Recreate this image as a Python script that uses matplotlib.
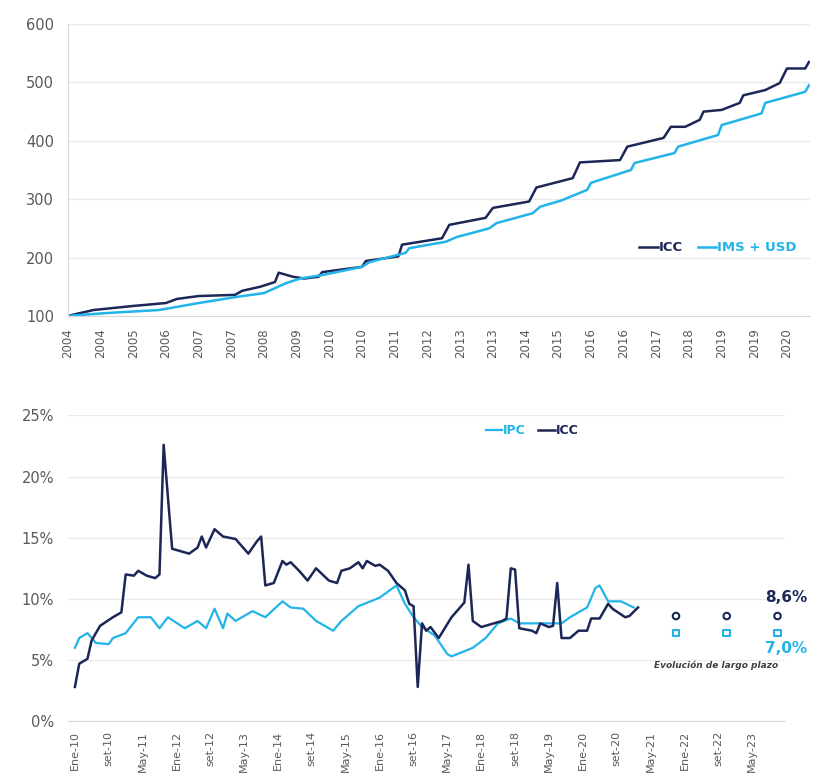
import pandas as pd
import matplotlib
matplotlib.use("Agg")
import matplotlib.pyplot as plt

# ---- top chart: index (2004 = 100) ----
icc_idx_dates = ['2004-01', '2004-08', '2005-07', '2006-04', '2006-07', '2007-01', '2007-11',
                 '2008-01', '2008-06', '2008-10', '2008-11', '2009-03', '2009-06', '2009-10',
                 '2009-11', '2010-10', '2010-11', '2011-08', '2011-09', '2012-08', '2012-10',
                 '2013-08', '2013-10', '2014-08', '2014-10', '2015-08', '2015-10', '2016-09',
                 '2016-11', '2017-09', '2017-11', '2018-03', '2018-07', '2018-08', '2019-01',
                 '2019-06', '2019-07', '2020-01', '2020-05', '2020-07', '2020-12', '2021-01']
icc_idx = [100, 110, 117, 122, 129, 134, 136,
           143, 150, 158, 174, 167, 164, 167,
           175, 184, 194, 202, 222, 233, 256,
           268, 285, 296, 320, 336, 363, 367,
           390, 405, 424, 424, 436, 450, 453,
           465, 478, 487, 499, 524, 524, 535]

ims_dates = ['2004-01', '2004-12', '2006-02', '2007-01', '2007-06', '2007-12', '2008-07',
             '2009-01', '2009-05', '2009-11', '2010-10', '2010-12', '2011-10', '2011-11',
             '2012-09', '2012-12', '2013-09', '2013-11', '2014-09', '2014-11', '2015-05',
             '2015-12', '2016-01', '2016-12', '2017-01', '2017-12', '2018-01', '2018-12',
             '2019-01', '2019-12', '2020-01', '2020-12', '2021-01']
ims_usd = [100, 105, 110, 122, 127, 133, 139,
           156, 164, 170, 184, 192, 208, 216,
           227, 235, 250, 259, 276, 287, 298,
           316, 328, 350, 362, 379, 390, 410,
           427, 447, 465, 484, 495]

top_tick_labels = ['2004', '2004', '2005', '2006', '2007', '2007', '2008', '2009', '2010', '2010',
                   '2011', '2012', '2013', '2013', '2014', '2015', '2016', '2016', '2017', '2018',
                   '2019', '2019', '2020']

# ---- bottom chart: annual variation (%) ----
icc_var_dates = ['2010-01', '2010-02', '2010-04', '2010-05', '2010-07', '2010-10', '2010-12',
                 '2011-01', '2011-03', '2011-04', '2011-06', '2011-08', '2011-09', '2011-10',
                 '2011-12', '2012-04', '2012-06', '2012-07', '2012-08', '2012-10', '2012-12',
                 '2013-03', '2013-06', '2013-08', '2013-09', '2013-10', '2013-12', '2014-02',
                 '2014-03', '2014-04', '2014-06', '2014-08', '2014-10', '2015-01', '2015-03',
                 '2015-04', '2015-06', '2015-08', '2015-09', '2015-10', '2015-12', '2016-01',
                 '2016-03', '2016-05', '2016-07', '2016-08', '2016-09', '2016-10', '2016-11',
                 '2016-12', '2017-01', '2017-03', '2017-06', '2017-09', '2017-10', '2017-11',
                 '2018-01', '2018-04', '2018-06', '2018-07', '2018-08', '2018-09', '2018-10',
                 '2019-01', '2019-02', '2019-03', '2019-05', '2019-06', '2019-07', '2019-08',
                 '2019-10', '2019-12', '2020-02', '2020-03', '2020-05', '2020-07', '2020-08',
                 '2020-11', '2020-12', '2021-02']
icc_var = [2.8, 4.7, 5.1, 6.6, 7.8, 8.5, 8.9,
           12.0, 11.9, 12.3, 11.9, 11.7, 12.0, 22.6,
           14.1, 13.7, 14.2, 15.1, 14.2, 15.7, 15.1,
           14.9, 13.7, 14.7, 15.1, 11.1, 11.3, 13.1,
           12.8, 13.0, 12.3, 11.5, 12.5, 11.5, 11.3,
           12.3, 12.5, 13.0, 12.5, 13.1, 12.7, 12.8,
           12.3, 11.3, 10.7, 9.6, 9.4, 2.8, 8.0,
           7.4, 7.7, 6.8, 8.5, 9.7, 12.8, 8.2,
           7.7, 8.0, 8.2, 8.4, 12.5, 12.4, 7.6,
           7.4, 7.2, 8.0, 7.7, 7.8, 11.3, 6.8,
           6.8, 7.4, 7.4, 8.4, 8.4, 9.6, 9.2,
           8.5, 8.6, 9.3]

ipc_dates = ['2010-01', '2010-02', '2010-04', '2010-06', '2010-09', '2010-10', '2011-01',
             '2011-04', '2011-07', '2011-09', '2011-11', '2012-03', '2012-06', '2012-08',
             '2012-10', '2012-12', '2013-01', '2013-03', '2013-07', '2013-10', '2014-02',
             '2014-04', '2014-07', '2014-10', '2015-02', '2015-04', '2015-06', '2015-08',
             '2016-01', '2016-05', '2016-07', '2016-09', '2016-11', '2017-02', '2017-05',
             '2017-06', '2017-11', '2018-02', '2018-05', '2018-08', '2018-10', '2019-03',
             '2019-08', '2019-10', '2019-12', '2020-02', '2020-04', '2020-05', '2020-07',
             '2020-10', '2021-01']
ipc = [6.0, 6.8, 7.2, 6.4, 6.3, 6.8, 7.2,
       8.5, 8.5, 7.6, 8.5, 7.6, 8.2, 7.6,
       9.2, 7.6, 8.8, 8.2, 9.0, 8.5, 9.8,
       9.3, 9.2, 8.2, 7.4, 8.2, 8.8, 9.4,
       10.1, 11.1, 9.6, 8.5, 7.7, 7.0, 5.5,
       5.3, 6.0, 6.8, 8.0, 8.4, 8.0, 8.0,
       8.0, 8.5, 8.9, 9.3, 10.9, 11.1, 9.8,
       9.8, 9.3]

lp_dates = ['2021-11', '2022-11', '2023-11']
icc_lp = [8.6, 8.6, 8.6]
ipc_lp = [7.2, 7.2, 7.2]

bottom_tick_labels = ['Ene-10', 'set-10', 'May-11', 'Ene-12', 'set-12', 'May-13', 'Ene-14',
                      'set-14', 'May-15', 'Ene-16', 'set-16', 'May-17', 'Ene-18', 'set-18',
                      'May-19', 'Ene-20', 'set-20', 'May-21', 'Ene-22', 'set-22', 'May-23']

navy = '#1c2757'
light = '#22b4e8'
grey_txt = '#595959'
grid_c = '#ebebeb'

fig = plt.figure(figsize=(8.19, 7.78), dpi=100)

# top chart
ax1 = fig.add_axes([0.083, 0.594, 0.906, 0.375])
ax1.plot(pd.to_datetime(icc_idx_dates), icc_idx, color=navy, lw=1.8, label='ICC')
ax1.plot(pd.to_datetime(ims_dates), ims_usd, color=light, lw=1.8, label='IMS + USD')
ax1.set_ylim(100, 600)
ax1.set_yticks(range(100, 601, 100))
ax1.set_xlim(pd.Timestamp('2004-01-01'), pd.Timestamp('2021-01-10'))
top_ticks = pd.date_range('2004-01-01', periods=len(top_tick_labels), freq='9MS')
ax1.set_xticks(top_ticks)
ax1.set_xticklabels(top_tick_labels, rotation=90, fontsize=8.5, color=grey_txt)
ax1.tick_params(axis='y', labelsize=10.5, labelcolor=grey_txt, length=0, pad=10)
ax1.tick_params(axis='x', length=0, pad=9)
ax1.grid(axis='y', color=grid_c, lw=1)
ax1.set_axisbelow(True)
for s in ['top', 'right']:
    ax1.spines[s].set_visible(False)
ax1.spines['left'].set_color('#d9d9d9')
ax1.spines['bottom'].set_color('#d9d9d9')
ax1.legend(loc='center', bbox_to_anchor=(0.876, 0.233), ncol=2, frameon=False,
           handlelength=1.4, handletextpad=0.1, columnspacing=1.1, labelcolor='linecolor',
           prop={'weight': 'bold', 'size': 9.5})

# bottom chart
ax2 = fig.add_axes([0.083, 0.073, 0.876, 0.393])
ax2.plot(pd.to_datetime(ipc_dates), ipc, color=light, lw=1.6, label='IPC')
ax2.plot(pd.to_datetime(icc_var_dates), icc_var, color=navy, lw=1.8, label='ICC')
ax2.scatter(pd.to_datetime(lp_dates), icc_lp, marker='o', s=22, facecolors='none',
            edgecolors=navy, linewidths=1.5, zorder=3)
ax2.scatter(pd.to_datetime(lp_dates), ipc_lp, marker='s', s=22, facecolors='none',
            edgecolors=light, linewidths=1.5, zorder=3)
ax2.set_ylim(0, 25)
ax2.set_yticks(range(0, 26, 5))
ax2.set_yticklabels([f'{v}%' for v in range(0, 26, 5)])
ax2.set_xlim(pd.Timestamp('2009-11-12'), pd.Timestamp('2023-12-28'))
bottom_ticks = pd.date_range('2010-01-01', periods=len(bottom_tick_labels), freq='8MS')
ax2.set_xticks(bottom_ticks)
ax2.set_xticklabels(bottom_tick_labels, rotation=90, fontsize=8, color=grey_txt)
ax2.tick_params(axis='y', labelsize=10.5, labelcolor=grey_txt, length=0, pad=10)
ax2.tick_params(axis='x', length=0, pad=7)
ax2.grid(axis='y', color=grid_c, lw=1)
ax2.set_axisbelow(True)
for s in ['top', 'right', 'left']:
    ax2.spines[s].set_visible(False)
ax2.spines['bottom'].set_color('#d9d9d9')
ax2.legend(loc='center', bbox_to_anchor=(0.647, 0.951), ncol=2, frameon=False,
           handlelength=1.3, handletextpad=0.1, columnspacing=1.0, labelcolor='linecolor',
           prop={'weight': 'bold', 'size': 9})

ax2.text(1.03, 0.405, '8,6%', transform=ax2.transAxes, ha='right', va='center',
         color=navy, fontsize=11, fontweight='bold', clip_on=False)
ax2.text(1.03, 0.237, '7,0%', transform=ax2.transAxes, ha='right', va='center',
         color=light, fontsize=11, fontweight='bold', clip_on=False)
ax2.text(0.99, 0.183, 'Evolución de largo plazo', transform=ax2.transAxes, ha='right',
         va='center', color='#404040', fontsize=6.5, fontweight='bold', style='italic',
         clip_on=False)

plt.savefig('out.png', dpi=100)
